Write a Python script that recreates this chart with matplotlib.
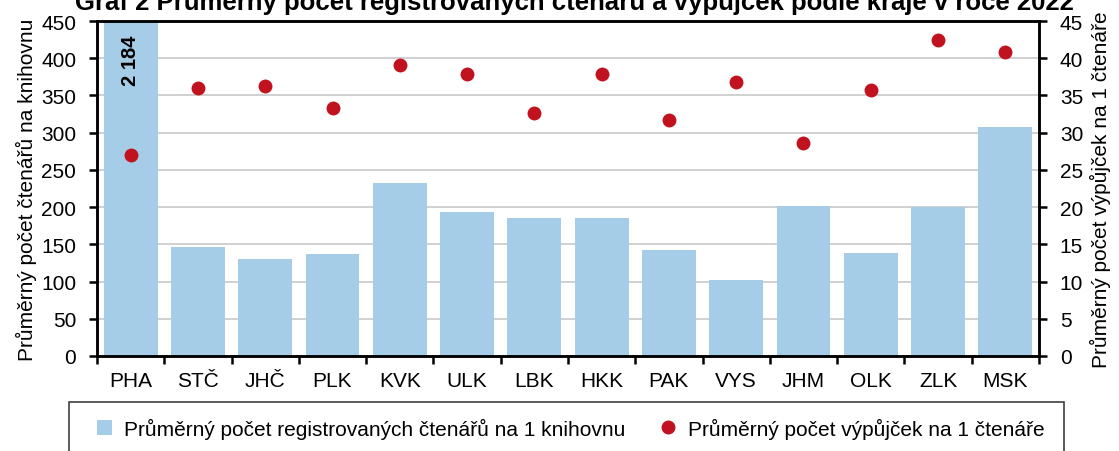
import numpy as np
import matplotlib
matplotlib.use("Agg")
import matplotlib.pyplot as plt
from matplotlib.patches import Rectangle
from matplotlib.lines import Line2D
from matplotlib.patches import Patch

plt.rcParams['font.family'] = ['Liberation Sans', 'DejaVu Sans']

# data
kraje = ['PHA', 'STČ', 'JHČ', 'PLK', 'KVK', 'ULK', 'LBK', 'HKK', 'PAK', 'VYS', 'JHM', 'OLK', 'ZLK', 'MSK']
ctenari = [2184, 147, 130, 137, 233, 194, 186, 185, 143, 102, 202, 139, 200, 308]
vypujcky = [27.0, 36.0, 36.3, 33.3, 39.1, 37.9, 32.6, 37.9, 31.7, 36.8, 28.6, 35.7, 42.4, 40.9]

title = 'Graf 2 Průměrný počet registrovaných čtenářů a výpůjček podle kraje v roce 2022'
lab_bar = 'Průměrný počet registrovaných čtenářů na 1 knihovnu'
lab_dot = 'Průměrný počet výpůjček na 1 čtenáře'
ylab_l = 'Průměrný počet čtenářů na knihovnu'
ylab_r = 'Průměrný počet výpůjček na 1 čtenáře'

bar_col = '#a6cde7'
dot_col = '#c1121f'
fs = 15

W, H = 1119, 452
fig = plt.figure(figsize=(W / 100, H / 100), dpi=100)
ax = fig.add_axes([97 / W, 1 - 357 / H, (1039 - 97) / W, (357 - 22) / H])
x = np.arange(len(kraje))

ax.bar(x, ctenari, width=0.8, color=bar_col, zorder=2)
ax.set_ylim(0, 450)
ax.set_xlim(-0.5, len(kraje) - 0.5)
ax.set_yticks(np.arange(0, 451, 50))
ax.yaxis.grid(True, color='#c8c8c8', linewidth=1.2, zorder=0)
ax.set_axisbelow(True)

# x ticks sit between categories, labels under centres
ax.set_xticks(np.arange(-0.5, len(kraje), 1.0))
ax.set_xticklabels([])
ax.set_xticks(x, minor=True)
ax.set_xticklabels(kraje, minor=True, fontsize=fs)
ax.tick_params(axis='x', which='minor', length=0, pad=11)
ax.tick_params(axis='x', which='major', length=6, width=1.8, direction='out')
ax.tick_params(axis='y', length=6, width=1.8, labelsize=fs, pad=9)
for s in ax.spines.values():
    s.set_linewidth(1.8)
ax.set_ylabel(ylab_l, fontsize=fs, labelpad=3)

# value of the clipped Praha bar
ax.text(0, 432, '2 184', rotation=90, ha='center', va='top', fontsize=fs - 0.5, fontweight='bold', zorder=5)

ax2 = ax.twinx()
ax2.scatter(x, vypujcky, s=100, color=dot_col, zorder=4, linewidths=0)
ax2.set_ylim(0, 45)
ax2.set_yticks(np.arange(0, 46, 5))
ax2.tick_params(axis='y', length=6, width=1.8, labelsize=fs, pad=9)
for s in ax2.spines.values():
    s.set_linewidth(1.8)
ax2.set_ylabel(ylab_r, fontsize=fs, labelpad=5)

fig.text(574 / W, 1 - 10 / H, title, ha='center', va='baseline', fontsize=18.5, fontweight='bold')

# legend frame runs past the bottom edge
fig.patches.append(Rectangle((69 / W, -0.2), (1064 - 69) / W, 0.2 + 1 - 403 / H,
                             transform=fig.transFigure, fill=False, edgecolor='#404040', linewidth=1.2))
handles = [Patch(facecolor=bar_col, edgecolor='none', label=lab_bar),
           Line2D([], [], marker='o', linestyle='none', color=dot_col, markersize=9, label=lab_dot)]
fig.legend(handles=handles, loc='center', bbox_to_anchor=(571 / W, 1 - 429 / H), ncol=2, frameon=False,
           fontsize=fs, handlelength=0.7, handleheight=0.7, handletextpad=0.6, columnspacing=1.7)

fig.savefig('out.png', dpi=100)
